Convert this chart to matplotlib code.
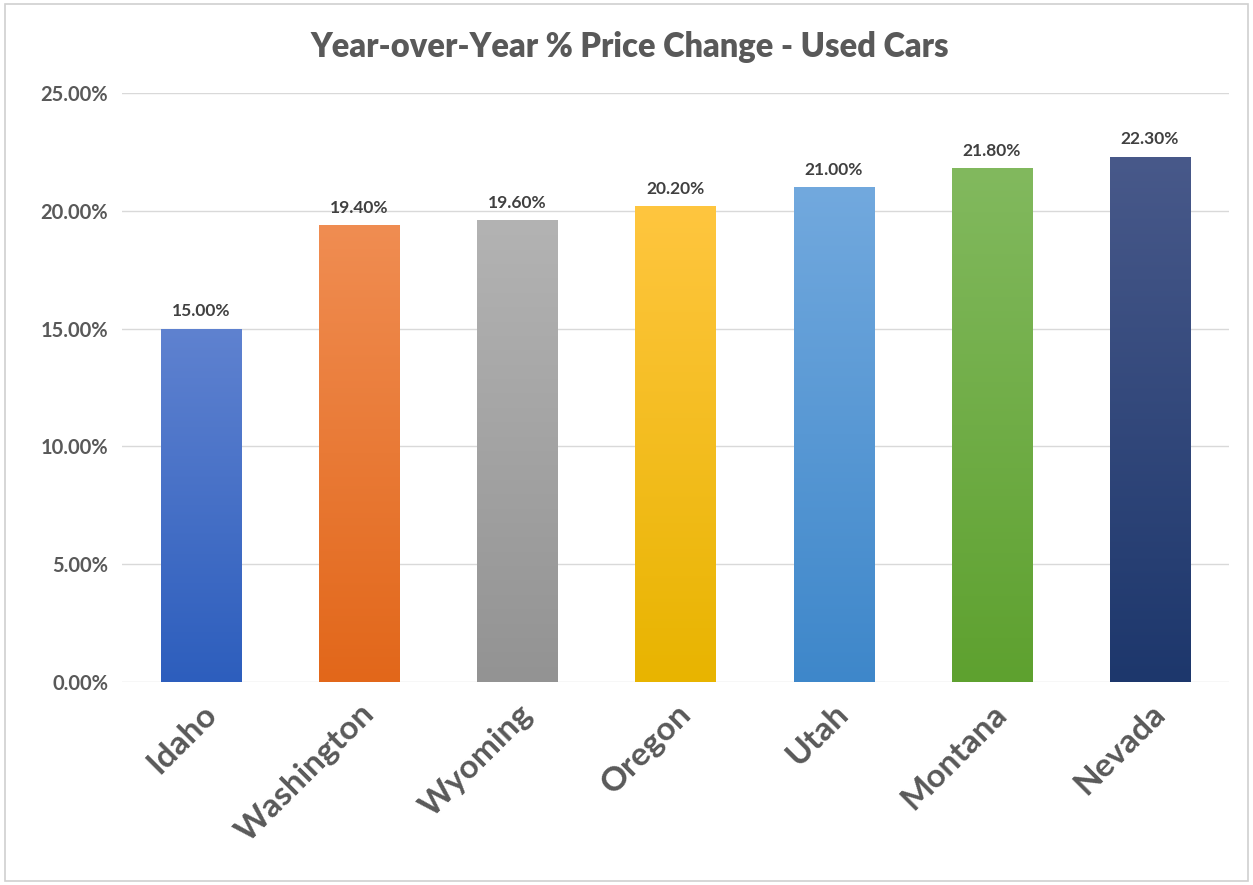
import matplotlib
matplotlib.use("Agg")
import matplotlib.pyplot as plt
import numpy as np
from matplotlib.colors import LinearSegmentedColormap
from matplotlib.patches import Rectangle

states = ["Idaho", "Washington", "Wyoming", "Oregon", "Utah", "Montana", "Nevada"]
values = [15.00, 19.40, 19.60, 20.20, 21.00, 21.80, 22.30]
top_colors = ["#5F82D0", "#F08D52", "#B3B3B3", "#FFC63F", "#72A9DE", "#82B95E", "#48598A"]
bottom_colors = ["#2D5EBD", "#E2671A", "#939393", "#E8B400", "#3E87CA", "#5EA12F", "#1D376C"]
yticks = [0, 5, 10, 15, 20, 25]
title = "Year-over-Year % Price Change - Used Cars"

plt.rcParams['font.family'] = ['Lato', 'DejaVu Sans']
TXT = "#595959"

fig = plt.figure(figsize=(12.53, 8.85), dpi=100)
ax = fig.add_axes([0.0974, 0.2294, 0.8834, 0.6655])

x = np.arange(len(states))
bars = ax.bar(x, values, width=0.506, color=bottom_colors, zorder=2)
for b, c1, c2 in zip(bars, top_colors, bottom_colors):
    cmap = LinearSegmentedColormap.from_list("g", [c1, c2])
    grad = np.linspace(0, 1, 256).reshape(-1, 1)
    x0, y0 = b.get_x(), b.get_y()
    w, h = b.get_width(), b.get_height()
    im = ax.imshow(grad, cmap=cmap, aspect='auto', extent=[x0, x0 + w, y0, y0 + h],
                   origin='upper', zorder=3, interpolation='bicubic')
    im.set_clip_path(b)

for xi, v in zip(x, values):
    ax.text(xi, v + 0.4, f"{v:.2f}%", ha='center', va='bottom', fontsize=12.5,
            fontweight='bold', color="#404040", zorder=4)

ax.set_xlim(-0.5, len(states) - 0.5)
ax.set_ylim(0, 25)
ax.set_yticks(yticks)
ax.set_yticklabels([f"{t:.2f}%" for t in yticks], fontsize=14.5, fontweight='bold', color=TXT)
ax.set_xticks(x)
ax.set_xticklabels(states, rotation=45, ha='right', rotation_mode='anchor',
                   fontsize=24, fontweight='bold', color=TXT)
ax.tick_params(axis='both', length=0)
ax.tick_params(axis='y', pad=10)
ax.tick_params(axis='x', pad=12)
ax.grid(axis='y', color="#D9D9D9", linewidth=1, zorder=0)
ax.set_axisbelow(True)
for s in ax.spines.values():
    s.set_visible(False)

fig.text(0.503, 0.947, title, ha='center', va='center', fontsize=23.5,
         fontweight='heavy', color=TXT)

fig.patches.append(Rectangle((0.004, 0.005), 0.992, 0.99, transform=fig.transFigure,
                             fill=False, edgecolor="#D0D0D0", linewidth=1.2))

fig.savefig("out.png", dpi=100)
